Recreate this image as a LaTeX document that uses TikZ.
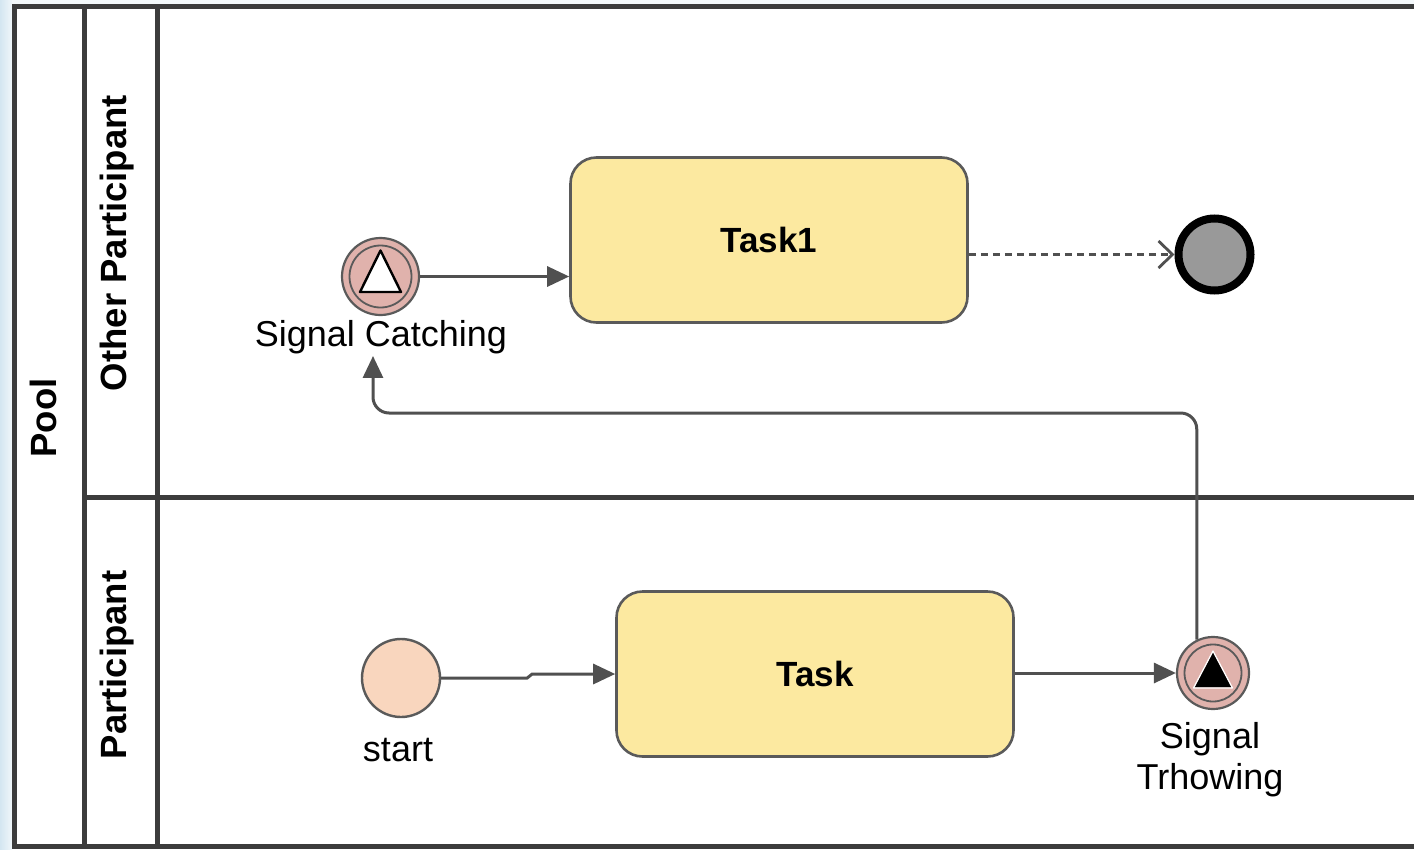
\documentclass[tikz,border=0pt]{standalone}
\usepackage{fontspec}
\setmainfont{Liberation Sans}
\usetikzlibrary{arrows.meta}
\definecolor{lineC}{RGB}{60,60,60}
\definecolor{flowC}{RGB}{80,80,80}
\definecolor{taskFill}{RGB}{252,233,160}
\definecolor{taskLine}{RGB}{90,90,90}
\definecolor{sigFill}{RGB}{224,178,172}
\definecolor{startFill}{RGB}{249,214,190}
\definecolor{endFill}{RGB}{153,153,153}
\definecolor{edgeBlue}{RGB}{212,230,241}
\tikzset{
  poolline/.style={draw=lineC, line width=5pt},
  header/.style={rotate=90, font=\fontsize{36.5}{42}\selectfont\bfseries},
  taskbox/.style={draw=taskLine, fill=taskFill, line width=2.6pt, rounded corners=26pt,
    minimum width=397pt, minimum height=165pt, font=\fontsize{35}{40}\selectfont\bfseries, inner sep=0pt},
  sigev/.style={circle, draw=taskLine, fill=sigFill, line width=2.2pt, minimum size=77pt, inner sep=0pt},
  startev/.style={circle, draw=taskLine, fill=startFill, line width=2.4pt, minimum size=78pt, inner sep=0pt},
  endev/.style={circle, draw=black, fill=endFill, line width=8pt, minimum size=72pt, inner sep=0pt},
  evlabel/.style={font=\fontsize{36}{41}\selectfont, align=center, inner sep=0pt},
  flow/.style={draw=flowC, line width=3pt, -{Triangle[length=22pt,width=20pt]}},
  msgflow/.style={draw=flowC, line width=2.8pt, dash pattern=on 7pt off 5pt,
    -{Straight Barb[length=14pt,width=27pt,line width=2.8pt]}},
}
\begin{document}
\begin{tikzpicture}[x=1pt,y=-1pt]
\useasboundingbox (0,0) rectangle (1414,849);
\fill[white] (0,0) rectangle (1414,849);
\shade[left color=edgeBlue, right color=edgeBlue!35] (0,0) rectangle (12,849);
\fill[edgeBlue!25] (12,0) rectangle (1414,3.5);
% pool and lanes
\draw[poolline] (1414,6) -- (14,6) -- (14,846.5) -- (1414,846.5);
\draw[poolline] (84,6) -- (84,846.5);
\draw[poolline] (157,6) -- (157,846.5);
\draw[poolline] (84,497) -- (1414,497);
\node[header] (pool) at (43,418) {Pool};
\node[header] (lane1) at (117,243) {Other Participant};
\node[header] (lane2) at (117,665) {Participant};
% upper lane
\node[taskbox] (task1) at (769,240) {Task1};
\node[sigev] (catch) at (380.5,276.5) {};
\draw[draw=taskLine, line width=1.8pt] (catch.center) circle[radius=31pt];
\draw[black, fill=white, line width=2.4pt, line join=round]
  ([shift={(0,-26)}]catch.center) -- ([shift={(-20.5,15.5)}]catch.center) -- ([shift={(20.5,15.5)}]catch.center) -- cycle;
\node[evlabel] (catchlbl) at (381,337) {Signal Catching};
\node[endev] (end) at (1214.5,254.5) {};
% lower lane
\node[taskbox] (task) at (815,674) {Task};
\node[startev] (start) at (401,678) {};
\node[evlabel] (startlbl) at (398,750) {start};
\node[sigev, minimum size=72pt] (throw) at (1213,673) {};
\draw[draw=taskLine, line width=1.8pt] (throw.center) circle[radius=28.5pt];
\draw[black, fill=black, line width=0.5pt]
  ([shift={(0,-20)}]throw.center) -- ([shift={(-18,14)}]throw.center) -- ([shift={(18,14)}]throw.center) -- cycle;
\draw[white, line width=1.2pt, line join=round]
  ([shift={(0,-22)}]throw.center) -- ([shift={(-19.5,15)}]throw.center) -- ([shift={(19.5,15)}]throw.center) -- cycle;
\node[evlabel] (throwlbl) at (1210,760) {Signal\\Trhowing};
% connectors
\draw[flow] (catch.east) -- (catch.east -| task1.west);
\draw[msgflow] (task1.east |- end.west) -- (end.west);
\draw[flow] (start.east) -- ++(86,0) -- ([xshift=-83pt]task.west) -- (task.west);
\draw[flow] (task.east |- throw.west) -- (throw.west);
\coordinate (bend) at (373,413);
\draw[flow, rounded corners=16pt] (throw.116) |- (bend) -- ([xshift=-8pt,yshift=-2pt]catchlbl.south);
\end{tikzpicture}
\end{document}
